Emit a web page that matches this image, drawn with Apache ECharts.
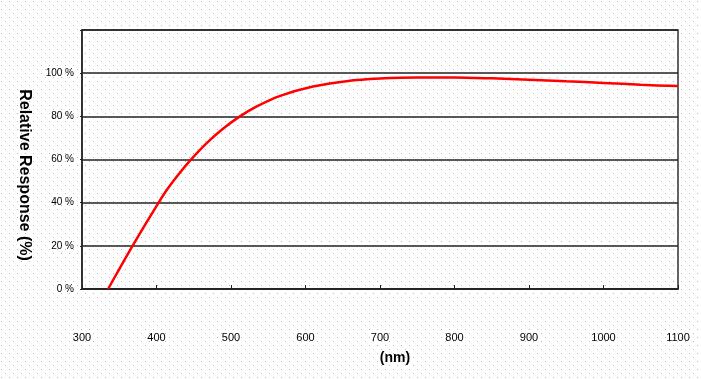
<!DOCTYPE html>
<html>
<head>
<meta charset="utf-8">
<script src="https://cdn.jsdelivr.net/npm/echarts@6/dist/echarts.min.js"></script>
<style>
  html, body { margin: 0; padding: 0; }
  body {
    background-color: #fff;
    background-image: url("data:image/svg+xml;utf8,<svg xmlns='http://www.w3.org/2000/svg' width='8' height='8'><rect x='1' y='1' width='1' height='1' fill='%23b8b8b8'/><rect x='5' y='5' width='1' height='1' fill='%23b8b8b8'/></svg>");
  }
  #chart { width: 701px; height: 379px; }
</style>
</head>
<body>
<div id="chart"></div>
<script>
// wavelength (nm) and relative response (%)
var wavelength = [335, 351, 371, 402, 414, 430, 445, 467, 490, 512, 534, 566, 610, 655, 700, 750, 800, 850, 900, 950, 1000, 1050, 1100];
var response   = [0, 9.8, 21.8, 39.6, 46, 53.3, 59.5, 67.5, 74.5, 80, 84.5, 89.5, 93.8, 96.3, 97.5, 98.0, 98.0, 97.6, 97.0, 96.2, 95.5, 94.6, 94.0];
var xTicks = [300, 400, 500, 600, 700, 800, 900, 1000, 1100];
var yTicks = [0, 20, 40, 60, 80, 100];

var points = [];
for (var i = 0; i < wavelength.length; i++) {
    points.push([wavelength[i], response[i]]);
}

var chart = echarts.init(document.getElementById('chart'));
var labelFont = 'Liberation Sans, Arial, sans-serif';

var option = {
    backgroundColor: 'transparent',
    animation: false,
    grid: {
        left: 82, right: 23, top: 30, bottom: 90,
        show: true,
        borderColor: '#333',
        borderWidth: 1.5,
        backgroundColor: 'transparent'
    },
    // axis titles placed by hand, they sit off-centre in the original
    graphic: [
        {
            type: 'text',
            x: 24, y: 175,
            rotation: -Math.PI / 2,
            style: {
                text: 'Relative Response (%)',
                fontFamily: labelFont,
                fontSize: 16,
                fontWeight: 'bold',
                fill: '#000',
                align: 'center',
                verticalAlign: 'middle'
            }
        },
        {
            type: 'text',
            x: 395, y: 358,
            style: {
                text: '(nm)',
                fontFamily: labelFont,
                fontSize: 14,
                fontWeight: 'bold',
                fill: '#000',
                align: 'center',
                verticalAlign: 'middle'
            }
        }
    ],
    xAxis: {
        type: 'value',
        min: 300,
        max: 1100,
        interval: 100,
        axisLine: { show: true, lineStyle: { color: '#222', width: 1.5 } },
        axisTick: { show: true, inside: true, length: 4, lineStyle: { color: '#222' } },
        axisLabel: {
            margin: 43,
            fontFamily: labelFont,
            fontSize: 11,
            color: '#000',
            formatter: function (v) { return xTicks.indexOf(v) >= 0 ? String(v) : ''; }
        },
        splitLine: { show: false }
    },
    yAxis: {
        type: 'value',
        min: 0,
        max: 120,
        interval: 20,
        axisLine: { show: true, lineStyle: { color: '#222', width: 1.5 } },
        axisTick: { show: true, length: 2, lineStyle: { color: '#222' } },
        axisLabel: {
            margin: 8,
            fontFamily: labelFont,
            fontSize: 10,
            color: '#000',
            formatter: function (v) { return yTicks.indexOf(v) >= 0 ? v + ' %' : ''; }
        },
        splitLine: { show: true, lineStyle: { color: '#222', width: 1.5 } }
    },
    series: [{
        type: 'line',
        data: points,
        smooth: 0.3,
        symbol: 'none',
        lineStyle: { color: '#ff0000', width: 2.5 }
    }]
};
chart.setOption(option);
</script>
</body>
</html>
